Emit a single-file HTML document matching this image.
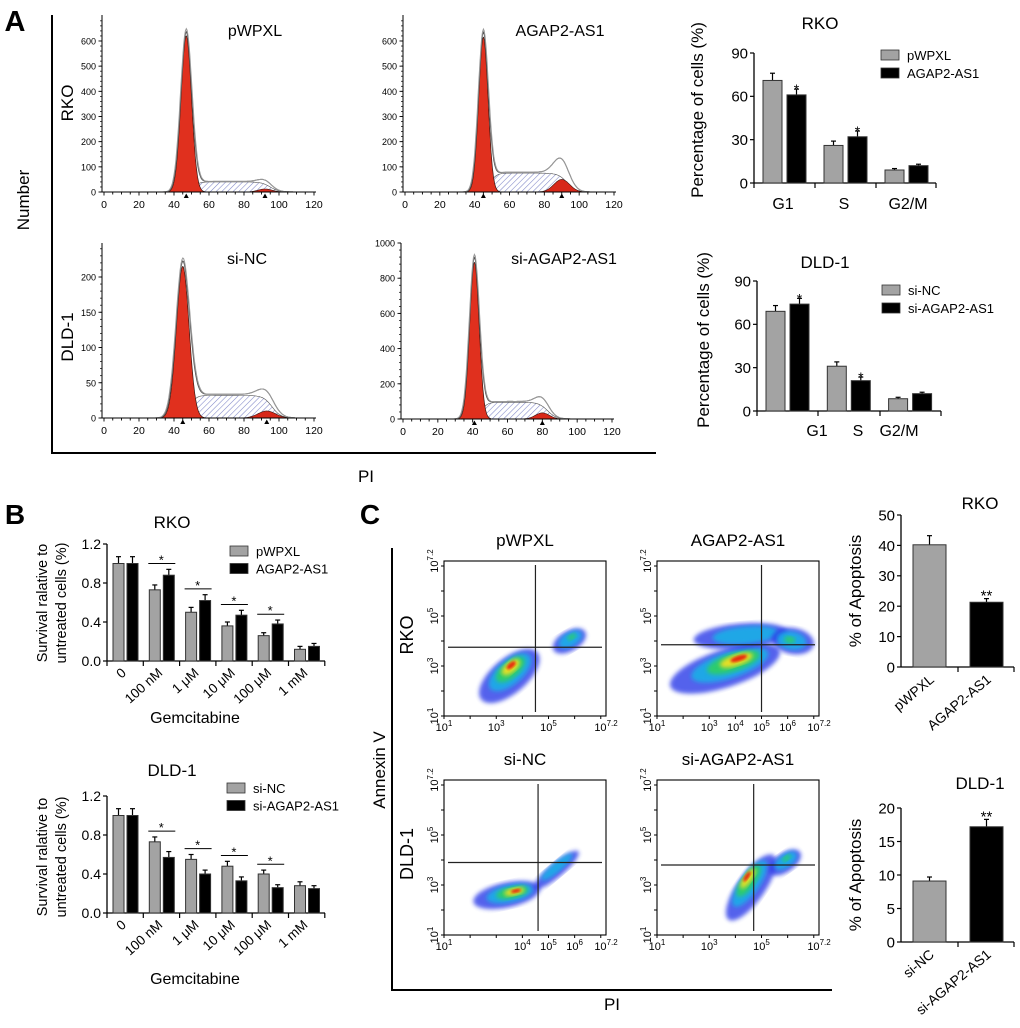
<!DOCTYPE html>
<html><head><meta charset="utf-8"><style>
html,body{margin:0;padding:0;background:#fff}
svg{display:block;font-family:"Liberation Sans",Arial,sans-serif}
</style></head><body>
<svg id="fig" width="1020" height="1028" viewBox="0 0 1020 1028" xmlns="http://www.w3.org/2000/svg">
<defs>
<pattern id="hatch" width="4" height="4" patternUnits="userSpaceOnUse" patternTransform="rotate(45)">
<rect width="4" height="4" fill="#fff"/><line x1="0" y1="0" x2="0" y2="4" stroke="#7f86c8" stroke-width="1.1"/></pattern>
<filter id="blur2"><feGaussianBlur stdDeviation="2"/></filter>
<filter id="blur1"><feGaussianBlur stdDeviation="1.2"/></filter>
</defs>
<g id="root"></g>
</svg>
<script>
// ---------- data ----------
const histTitles=["pWPXL","AGAP2-AS1","si-NC","si-AGAP2-AS1"];
// [g1Center, g1Height, g1Sigma, sLevel, g2Center, g2Height, g2Sigma, envelopeBump]
const histParams=[[47,620,3.0,40,92,12,4,45],[45,615,2.7,75,90,50,4.5,110],[45,215,3.6,32,93,10,5,36],[41,890,2.7,95,80,35,4,110]];
const cycleCats=["G1","S","G2/M"];
const rkoCycleCtrl=[71,26,9], rkoCycleCtrlErr=[5,3,1];
const rkoCycleOE=[61,32,12], rkoCycleOEErr=[4,4,1];
const dldCycleCtrl=[69,31,8.5], dldCycleCtrlErr=[4,3,1];
const dldCycleKD=[74,21,12], dldCycleKDErr=[4,2.5,1];
const gemCats=["0","100 nM","1 μM","10 μM","100 μM","1 mM"];
const rkoGemCtrl=[1.0,0.73,0.50,0.36,0.26,0.12], rkoGemCtrlErr=[0.07,0.05,0.05,0.04,0.03,0.03];
const rkoGemOE=[1.0,0.88,0.62,0.47,0.38,0.15], rkoGemOEErr=[0.07,0.06,0.06,0.05,0.04,0.03];
const dldGemCtrl=[1.0,0.73,0.55,0.48,0.40,0.28], dldGemCtrlErr=[0.07,0.05,0.05,0.05,0.04,0.04];
const dldGemKD=[1.0,0.57,0.40,0.33,0.26,0.25], dldGemKDErr=[0.07,0.06,0.04,0.04,0.03,0.03];
const apopCatsRKO=["pWPXL","AGAP2-AS1"], apopRKO=[40.2,21.3], apopRKOErr=[3,1.2];
const apopCatsDLD=["si-NC","si-AGAP2-AS1"], apopDLD=[9.1,17.2], apopDLDErr=[0.6,1.1];

const NS="http://www.w3.org/2000/svg";
const root=document.getElementById('root');
function el(tag,attrs,parent,txt){const e=document.createElementNS(NS,tag);for(const k in attrs)e.setAttribute(k,attrs[k]);if(txt!==undefined)e.textContent=txt;(parent||root).appendChild(e);return e;}
function txt(x,y,s,size,opts,parent){opts=opts||{};const a={x:x,y:y,'font-size':size,'text-anchor':opts.anchor||'middle',fill:'#000'};if(opts.rot!==undefined)a.transform='rotate('+opts.rot+' '+x+' '+y+')';if(opts.bold)a['font-weight']='bold';const t=el('text',a,parent,s);

return t;}

// ---------- panel labels & frames ----------
txt(15,31,"A",29,{bold:true,name:'panel-a-label'});
txt(15,524,"B",28,{bold:true,name:'panel-b-label'});
txt(370,524,"C",28,{bold:true,name:'panel-c-label'});
let fa=el('path',{d:'M52 15 V453 H656',fill:'none',stroke:'#000','stroke-width':2});

txt(29,200,"Number",17,{rot:-90,name:'number-axis-title'});
txt(366,482,"PI",17,{name:'pi-axis-title-a'});
let fc=el('path',{d:'M392 548 V990 H832',fill:'none',stroke:'#000','stroke-width':2});

txt(385,770,"Annexin V",17,{rot:-90,name:'annexin-axis-title'});
txt(612,1010,"PI",17,{name:'pi-axis-title-c'});

// ---------- histograms ----------
const histGeom=[
 {ax:102,x0:104,x1:314,base:192,top:15,ymax:690,ppu:0.2517,ticks:[0,100,200,300,400,500,600],tx:255,ty:36,side:'RKO',sy:103},
 {ax:403,x0:405,x1:614,base:192,top:15,ymax:690,ppu:0.2517,ticks:[0,100,200,300,400,500,600],tx:560,ty:36},
 {ax:102,x0:104,x1:314,base:418,top:243,ymax:245,ppu:0.705,ticks:[0,50,100,150,200],tx:247,ty:264,side:'DLD-1',sy:337},
 {ax:401,x0:403,x1:612,base:419,top:243,ymax:1000,ppu:0.176,ticks:[0,200,400,600,800,1000],tx:564,ty:264}];
function gauss(x,c,h,s){return h*Math.exp(-0.5*((x-c)/s)**2);}
histGeom.forEach((g,i)=>{
 const p=histParams[i];const G=el('g',{});
 
 
 const X=v=>g.x0+(g.x1-g.x0)*v/120, Y=v=>g.base-v*g.ppu;
 const sCurve=x=>{const up=1/(1+Math.exp(-(x-(p[0]+4))/1.8)), dn=1/(1+Math.exp((x-(p[4]+3))/2.5));return p[3]*up*dn;};
 let d='M'+X(p[0]-5)+' '+Y(0);
 for(let x=p[0]-5;x<=p[4]+14;x+=0.5)d+=' L'+X(x).toFixed(1)+' '+Y(sCurve(x)).toFixed(1);
 d+=' L'+X(p[4]+14)+' '+Y(0)+'Z';
 el('path',{d:d,fill:'url(#hatch)',stroke:'#555','stroke-width':0.6},G);
 let d1='M'+X(p[0]-4*p[2])+' '+Y(0);
 for(let x=p[0]-4*p[2];x<=p[0]+4*p[2];x+=0.25)d1+=' L'+X(x).toFixed(1)+' '+Y(gauss(x,p[0],p[1],p[2])).toFixed(1);
 d1+='Z';el('path',{d:d1,fill:'#e0301e',stroke:'#3a1a14','stroke-width':0.7},G);
 let d2='M'+X(p[4]-4*p[6])+' '+Y(0);
 for(let x=p[4]-4*p[6];x<=p[4]+4*p[6];x+=0.5)d2+=' L'+X(x).toFixed(1)+' '+Y(gauss(x,p[4],p[5],p[6])).toFixed(1);
 d2+='Z';el('path',{d:d2,fill:'#d8281a',stroke:'#3a1a14','stroke-width':0.6},G);
 ['#555','#999'].forEach((c,k)=>{let e='';
  for(let x=p[0]-5*p[2];x<=p[4]+16;x+=0.5){let v=gauss(x,p[0],p[1]*(1.02+0.02*k),p[2]*(1.05+0.05*k))+sCurve(x)*1.05+gauss(x,p[4],p[5]+(p[7]-p[3])*0.6,p[6]);e+=(e?' L':'M')+X(x).toFixed(1)+' '+Y(v).toFixed(1);}
  el('path',{d:e,fill:'none',stroke:c,'stroke-width':1},G);});
 el('line',{x1:g.ax,y1:g.top,x2:g.ax,y2:g.base,stroke:'#000','stroke-width':1},G);
 el('line',{x1:g.ax,y1:g.base,x2:g.x1+2,y2:g.base,stroke:'#000','stroke-width':1},G);
 for(let v=0;v<=120;v+=5){const big=v%20==0;el('line',{x1:X(v),y1:g.base,x2:X(v),y2:g.base+(big?3.5:2.5),stroke:'#000','stroke-width':0.9},G);
  if(big)txt(X(v),g.base+16,String(v),10.5,{name:'x-tick-label'},G);}
 const step=g.ticks[1]/5;
 for(let v=0;v<=g.ymax;v+=step){if(Y(v)<g.top)break;el('line',{x1:g.ax-2,y1:Y(v),x2:g.ax,y2:Y(v),stroke:'#000','stroke-width':0.7},G);}
 g.ticks.forEach(v=>{el('line',{x1:g.ax-3.5,y1:Y(v),x2:g.ax,y2:Y(v),stroke:'#000','stroke-width':0.9},G);txt(g.ax-6,Y(v)+3.5,String(v),9,{anchor:'end',name:'y-tick-label'},G);});
 [p[0],p[4]].forEach(v=>el('path',{d:`M${X(v)-2.5} ${g.base+6} L${X(v)+2.5} ${g.base+6} L${X(v)} ${g.base+1.5}Z`,fill:'#000'},G));
 txt(g.tx,g.ty,histTitles[i],16,{name:'histogram-title'},G);
 if(g.side)txt(73,g.sy,g.side,17,{rot:-90,name:'row-label-'+g.side.toLowerCase()},G);
});

// ---------- generic bar chart ----------
function barChart(o){
 const G=el('g',{});
 
 
 const Y=v=>o.y0-(o.y0-o.yTop)*v/o.ymax;
 el('line',{x1:o.ax,y1:Y(o.ymax),x2:o.ax,y2:o.y0,stroke:'#000','stroke-width':1.3},G);
 el('line',{x1:o.ax,y1:o.y0,x2:o.axEnd,y2:o.y0,stroke:'#000','stroke-width':1.3},G);
 o.ticks.forEach(v=>{el('line',{x1:o.ax-4,y1:Y(v),x2:o.ax,y2:Y(v),stroke:'#000','stroke-width':1.2},G);txt(o.ax-6,Y(v)+o.fs*0.36,o.fmt?o.fmt(v):String(v),o.fs,{anchor:'end',name:'y-tick-label'},G);});
 o.xTicks.forEach(x=>el('line',{x1:x,y1:o.y0,x2:x,y2:o.y0+5,stroke:'#000','stroke-width':1.2},G));
 o.series.forEach((s,si)=>{s.vals.forEach((v,ci)=>{
   const x=o.gx(ci)+s.off, ty=Y(v+s.err[ci]);
   el('line',{x1:x+o.bw/2,y1:ty,x2:x+o.bw/2,y2:Y(v),stroke:'#000','stroke-width':1.2},G);
   el('line',{x1:x+o.bw/2-2.5,y1:ty,x2:x+o.bw/2+2.5,y2:ty,stroke:'#000','stroke-width':1.2},G);
   const r=el('rect',{x:x,y:Y(v),width:o.bw,height:o.y0-Y(v),fill:s.color,stroke:'#333','stroke-width':1},G);
   
   
   if(s.stars&&s.stars[ci])txt(x+o.bw/2,ty-2+(s.stars[ci]=='*'?7:4),s.stars[ci],s.starFs||14,{name:'significance-star'},G);
 });});
 if(o.legend)o.legend.forEach((l,i)=>{
   const lr=el('rect',{x:o.lx,y:o.ly+i*o.lstep-5,width:18,height:10,fill:l.color,stroke:'#333','stroke-width':0.8},G);
   
   txt(o.lx+26,o.ly+i*o.lstep+5,l.text,o.lfs||13,{anchor:'start',name:'legend-entry'},G);});
 return {G,Y};
}
const GRAY='#a3a3a3', BLK='#000';

// Panel A bar charts
(function(){
 let c=barChart({name:'rko-cell-cycle-chart',ax:754,axEnd:936,y0:183,yTop:53,ymax:90,ticks:[0,30,60,90],fs:15,
  xTicks:[754,815,876,936],gx:i=>754+61*i,bw:19,
  series:[{key:'pwpxl',vals:rkoCycleCtrl,err:rkoCycleCtrlErr,color:GRAY,off:9},
          {key:'agap2-as1',vals:rkoCycleOE,err:rkoCycleOEErr,color:BLK,off:33,stars:['*','*','']}],
  legend:[{text:'pWPXL',color:GRAY},{text:'AGAP2-AS1',color:BLK}],lx:881,ly:55,lstep:18});
 cycleCats.forEach((s,i)=>txt(783+61*i+(i==2?3:0),209,s,16,{name:'x-category-label'},c.G));
 txt(820,29,'RKO',17,{name:'chart-title'},c.G);
 txt(703,110,'Percentage of cells (%)',17,{rot:-90,name:'y-axis-title'},c.G);
 let d=barChart({name:'dld1-cell-cycle-chart',ax:757,axEnd:941,y0:411,yTop:281,ymax:90,ticks:[0,30,60,90],fs:15,
  xTicks:[757,818,880,941],gx:i=>757+61.3*i,bw:19,
  series:[{key:'si-nc',vals:dldCycleCtrl,err:dldCycleCtrlErr,color:GRAY,off:9},
          {key:'si-agap2-as1',vals:dldCycleKD,err:dldCycleKDErr,color:BLK,off:33,stars:['*','*','']}],
  legend:[{text:'si-NC',color:GRAY},{text:'si-AGAP2-AS1',color:BLK}],lx:882,ly:290,lstep:18});
 [817,858,899].forEach((x,i)=>txt(x,436,cycleCats[i],16,{name:'x-category-label'},d.G));
 txt(825,268,'DLD-1',17,{name:'chart-title'},d.G);
 txt(709,340,'Percentage of cells (%)',17,{rot:-90,name:'y-axis-title'},d.G);
})();

// Panel B
function gemChart(name,y0,yTop,ctrl,ctrlE,trt,trtE,leg,ly,lx,title,ty,gy,ycenter){
 const gx=i=>107+36.3*i;
 let c=barChart({name:name,ax:107,axEnd:325,y0:y0,yTop:yTop,ymax:1.2,ticks:[0,0.4,0.8,1.2],fmt:v=>v.toFixed(1),fs:14,
  xTicks:[0,1,2,3,4,5,6].map(gx),gx:gx,bw:11,
  series:[{key:'control',vals:ctrl,err:ctrlE,color:GRAY,off:6},{key:'treated',vals:trt,err:trtE,color:BLK,off:20}],
  legend:leg,lx:lx,ly:ly,lstep:17.5,lfs:13});
 const Y=c.Y;
 for(let i=1;i<=4;i++){const m=Math.max(ctrl[i]+ctrlE[i],trt[i]+trtE[i])+0.06;const yy=Y(m);
  el('line',{x1:gx(i)+5,y1:yy,x2:gx(i)+32,y2:yy,stroke:'#000','stroke-width':1},c.G);
  txt(gx(i)+18,yy+1,'*',13,{name:'significance-star'},c.G);}
 gemCats.forEach((s,i)=>txt(gx(i)+20,y0+13,s,13.5,{anchor:'end',rot:-42,name:'x-category-label'},c.G));
 txt(172,ty,title,17,{name:'chart-title'},c.G);
 txt(195,gy,'Gemcitabine',16,{name:'x-axis-title'},c.G);
 txt(47,ycenter,'Survival ralative to',14.5,{rot:-90,name:'y-axis-title'},c.G);
 txt(66,ycenter,'untreated cells (%)',14.5,{rot:-90,name:'y-axis-title'},c.G);
}
gemChart('rko-gemcitabine-chart',661,544,rkoGemCtrl,rkoGemCtrlErr,rkoGemOE,rkoGemOEErr,[{text:'pWPXL',color:GRAY},{text:'AGAP2-AS1',color:BLK}],551,230,'RKO',528,723,603);
gemChart('dld1-gemcitabine-chart',913,796,dldGemCtrl,dldGemCtrlErr,dldGemKD,dldGemKDErr,[{text:'si-NC',color:GRAY},{text:'si-AGAP2-AS1',color:BLK}],788,227,'DLD-1',776,984,857);

// Panel C apoptosis bars
function apopChart(name,y0,yTop,ymax,ticks,cats,vals,errs,title,ty){
 let c=barChart({name:name,ax:901,axEnd:1014,y0:y0,yTop:yTop,ymax:ymax,ticks:ticks,fs:15,xTicks:[958,1014],gx:i=>913+57*i,bw:33,
  series:[{key:'control',vals:[vals[0]],err:[errs[0]],color:GRAY,off:0},
          {key:'treated',vals:[vals[1]],err:[errs[1]],color:BLK,off:57,stars:['**'],starFs:15}],});
 cats.forEach((s,i)=>txt(935+57*i,y0+14,s,14,{anchor:'end',rot:-40,name:'x-category-label'},c.G));
 txt(980,ty,title,17,{name:'chart-title'},c.G);
 txt(861,(y0+yTop)/2,'% of Apoptosis',17,{rot:-90,name:'y-axis-title'},c.G);
}
apopChart('rko-apoptosis-chart',667,515,50,[0,10,20,30,40,50],apopCatsRKO,apopRKO,apopRKOErr,'RKO',509);
apopChart('dld1-apoptosis-chart',942,808,20,[0,5,10,15,20],apopCatsDLD,apopDLD,apopDLDErr,'DLD-1',789);

// ---------- flow cytometry plots ----------
const flowTitles=['pWPXL','AGAP2-AS1','si-NC','si-AGAP2-AS1'];
// clusters: [cxLog, cyLog, rxDec, ryDec, angle, coreScale]
const flowClusters=[
 [[3.5,2.6,1.4,0.7,-40,1],[5.8,4.0,0.7,0.4,-30,0.55]],
 [[3.6,2.9,2.2,0.75,-18,1],[4.2,4.2,1.8,0.5,-5,0.25],[6.2,4.0,0.5,0.85,-80,0.55]],
 [[3.4,2.6,1.3,0.5,-12,1],[5.3,3.6,1.1,0.28,-40,0.3]],
 [[4.6,2.9,1.5,0.55,-55,1],[5.9,3.9,0.7,0.38,-35,0.55]]];
const flowQuad=[[4.5,3.75],[5.0,3.85],[4.6,3.9],[4.7,3.8]];
const flowXLabels=[[1,3,5,7.2],[1,3,4,5,6,7.2],[1,4,5,6,7.2],[1,3,5,7.2]];
const flowYLabels=[[1,3,5,7.2],[1,3,5,7.2],[1,3,5,7.2],[1,3,5,7.2]];
const flowPos=[[444,561],[657,561],[444,780],[657,780]];
flowPos.forEach((pp,i)=>{
 const [bx,by]=pp,W=162,H=155;const G=el('g',{});
 
 
 const X=l=>bx+(l-1)*W/6.2, Y=l=>by+H-(l-1)*H/6.2;
 const clip='clip'+i;const cp=el('clipPath',{id:clip},G);el('rect',{x:bx,y:by,width:W,height:H},cp);
 const inner=el('g',{'clip-path':`url(#${clip})`},G);
 flowClusters[i].forEach(c=>{
  const cx=X(c[0]),cy=Y(c[1]),rx=c[2]*W/6.2,ry=c[3]*H/6.2,s=c[5];
  const layers=[['#2a3ae8',1,0.8,'blur2'],['#19b4e6',0.7,0.85,'blur2'],['#2fd25a',0.48*Math.max(s,0.5),s>0.4?0.85:0,'blur2'],['#f0e020',0.3*s,s>0.8?0.95:0,'blur2'],['#e82010',0.15*s,s>0.8?0.95:0,'blur1']];
  layers.forEach(L=>{if(L[2]>0)el('ellipse',{cx:cx+(1-L[1])*rx*0.35*Math.cos(c[4]*Math.PI/180),cy:cy+(1-L[1])*rx*0.35*Math.sin(c[4]*Math.PI/180),rx:rx*L[1],ry:ry*L[1],fill:L[0],opacity:L[2],filter:`url(#${L[3]})`,transform:`rotate(${c[4]} ${cx} ${cy})`},inner);});
 });
 el('rect',{x:bx,y:by,width:W,height:H,fill:'none',stroke:'#000','stroke-width':1.1},G);
 el('line',{x1:X(flowQuad[i][0]),y1:by+4,x2:X(flowQuad[i][0]),y2:by+H-4,stroke:'#222','stroke-width':1.2},G);
 el('line',{x1:bx+4,y1:Y(flowQuad[i][1]),x2:bx+W-4,y2:Y(flowQuad[i][1]),stroke:'#222','stroke-width':1.2},G);
 for(let d=1;d<=7;d++){el('line',{x1:X(d),y1:by+H,x2:X(d),y2:by+H+3,stroke:'#000'},G);el('line',{x1:bx-3,y1:Y(d),x2:bx,y2:Y(d),stroke:'#000'},G);}
 flowXLabels[i].forEach(v=>{const t=txt(X(v),by+H+15,'10',11,{name:'x-tick-label'},G);el('tspan',{dy:-5,'font-size':8},t,String(v));});
 flowYLabels[i].forEach(v=>{const t=txt(bx-6,Y(v),'10',11,{rot:-90,name:'y-tick-label'},G);el('tspan',{dy:-5,'font-size':8},t,String(v));});
 txt(bx+W/2,by-15,flowTitles[i],17,{name:'flow-plot-title'},G);
});
txt(413,635,'RKO',18,{rot:-90,name:'row-label-rko'});
txt(413,854,'DLD-1',18,{rot:-90,name:'row-label-dld1'});
</script>
</body></html>
